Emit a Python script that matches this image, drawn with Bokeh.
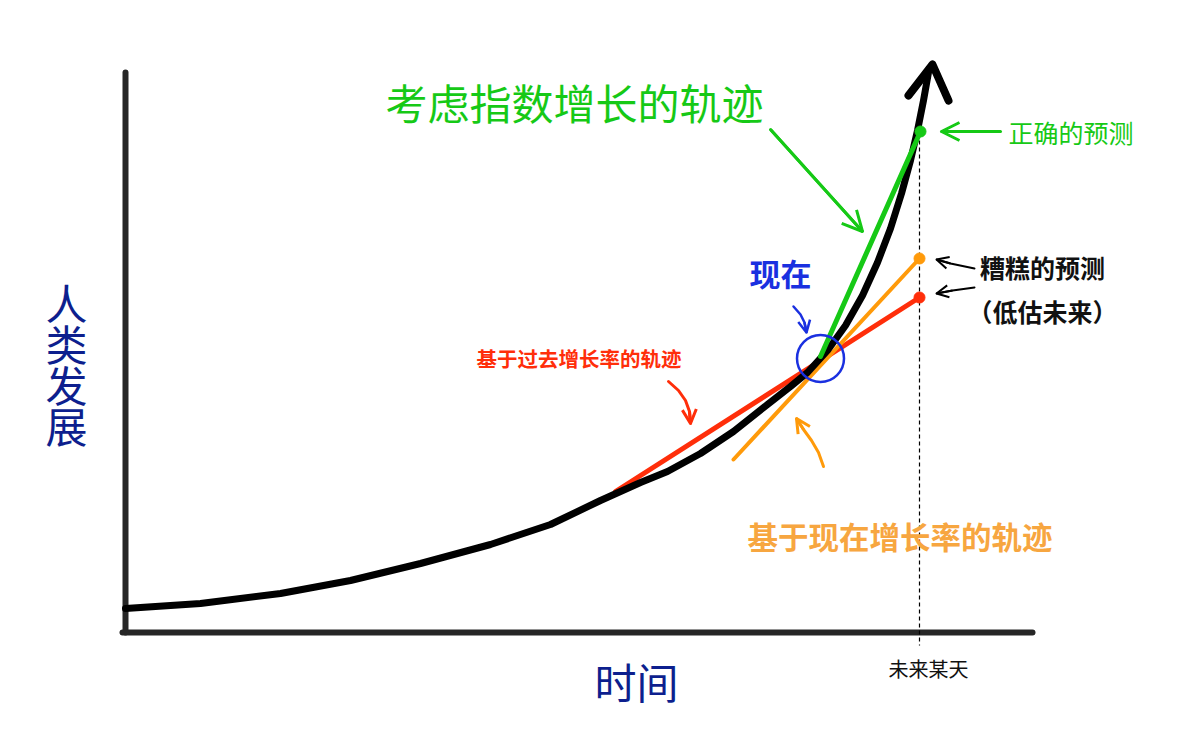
from bokeh.plotting import figure
from bokeh.models import Range1d, Arrow, OpenHead
from bokeh.core.properties import value
from bokeh.embed import file_html
from bokeh.resources import INLINE

FONT = "Noto Sans CJK SC"

# ---- data (page-pixel-like coordinates, y grows downward) ----
curve_x = [125, 200, 280, 350, 420, 490, 550, 600, 640, 667, 700, 733, 767, 790, 807, 827, 845, 862, 877, 890, 901, 910, 917, 923, 928]
curve_y = [608, 603, 593, 580, 563, 544, 524, 500, 482, 471, 453, 431, 404, 386, 372, 350, 325, 295, 262, 228, 193, 160, 130, 100, 72]
arrow_head_x = [908, 932, 948]
arrow_head_y = [95, 64, 100]

green_x = [820, 920]
green_y = [356, 131]
orange_x = [733, 919]
orange_y = [459, 258]
red_x = [615, 919]
red_y = [491, 297]

now_x, now_y = 820, 358
future_x = 919
dash_y = [140, 645]

axis_y_x = [125, 125]
axis_y_y = [72, 632]
axis_x_x = [122, 1032]
axis_x_y = [632, 632]

green_c = "#16c916"
orange_c = "#ff9a0a"
red_c = "#ff2e0a"
blue_c = "#1a30e0"
navy_c = "#0d1f8e"

p = figure(width=1176, height=716, output_backend="svg", toolbar_location=None,
           x_range=Range1d(0, 1176), y_range=Range1d(716, 0), min_border=0)
p.axis.visible = False
p.grid.visible = False
p.outline_line_color = None
p.background_fill_color = "white"

# axes
p.line(axis_y_x, axis_y_y, line_width=6, line_color="#262626", line_cap="round")
p.line(axis_x_x, axis_x_y, line_width=6, line_color="#262626", line_cap="round")

# dashed future line
p.line([future_x, future_x], dash_y, line_width=1.2, line_color="black", line_dash="4 3")

# trajectories
p.line(red_x, red_y, line_width=5, line_color=red_c, line_cap="round")
p.line(orange_x, orange_y, line_width=4, line_color=orange_c, line_cap="round")
p.line(curve_x, curve_y, line_width=7, line_color="black", line_cap="round", line_join="round")
p.line(arrow_head_x, arrow_head_y, line_width=8, line_color="black", line_cap="round", line_join="round")
p.line(green_x, green_y, line_width=5, line_color=green_c, line_cap="round")

p.scatter([green_x[1]], [green_y[1]], size=11, color=green_c)
p.scatter([orange_x[1]], [orange_y[1]], size=11, color=orange_c)
p.scatter([red_x[1]], [red_y[1]], size=11, color=red_c)

# "now" circle
p.scatter([now_x], [now_y], size=47, fill_color=None, line_color=blue_c, line_width=2.5)

def arrow(xs, ys, color, w=2.5, size=14):
    p.line(xs, ys, line_width=w, line_color=color, line_cap="round")
    p.add_layout(Arrow(end=OpenHead(size=size, line_color=color, line_width=w),
                       x_start=xs[-2], y_start=ys[-2], x_end=xs[-1], y_end=ys[-1],
                       line_color=color, line_width=w))

# annotation arrows
arrow([770, 862], [129, 231], green_c, 3, 20)
arrow([1000, 941], [131, 131], green_c, 3, 18)
arrow([974, 950, 936], [268, 263, 259], "black", 2, 12)
arrow([974, 952, 936], [287, 290, 293], "black", 2, 12)
arrow([793, 800, 804, 806], [306, 314, 322, 332], blue_c, 2.5, 12)
arrow([668, 678, 685, 689, 690], [381, 390, 400, 411, 423], red_c, 3, 14)
arrow([823, 818, 811, 803, 796], [466, 452, 440, 429, 418], orange_c, 3, 14)

# texts
def txt(x, y, s, color, size, bold=False, align="left"):
    p.text([x], [y], text=[s], text_color=color, text_font=value(FONT),
           text_font_size=f"{size}px", text_font_style="bold" if bold else "normal",
           text_align=align, text_baseline="middle")

txt(385, 101, "考虑指数增长的轨迹", green_c, 42)
txt(1008, 131, "正确的预测", green_c, 25)
txt(749, 272, "现在", blue_c, 31, bold=True)
txt(1042, 266, "糟糕的预测", "#111111", 25, bold=True, align="center")
txt(1042, 310, "（低估未来）", "#111111", 25, bold=True, align="center")
txt(476, 357, "基于过去增长率的轨迹", red_c, 20.5, bold=True)
txt(747, 535, "基于现在增长率的轨迹", "#f7a640", 30.5, bold=True)
txt(928, 668, "未来某天", "#111111", 20, align="center")
txt(636, 680, "时间", navy_c, 42, align="center")

ylabel = ["人", "类", "发", "展"]
ylabel_y = [301, 342, 383, 424]
for ch, yy in zip(ylabel, ylabel_y):
    txt(66, yy, ch, navy_c, 42, align="center")

open("out.html", "w").write(file_html(p, INLINE))
